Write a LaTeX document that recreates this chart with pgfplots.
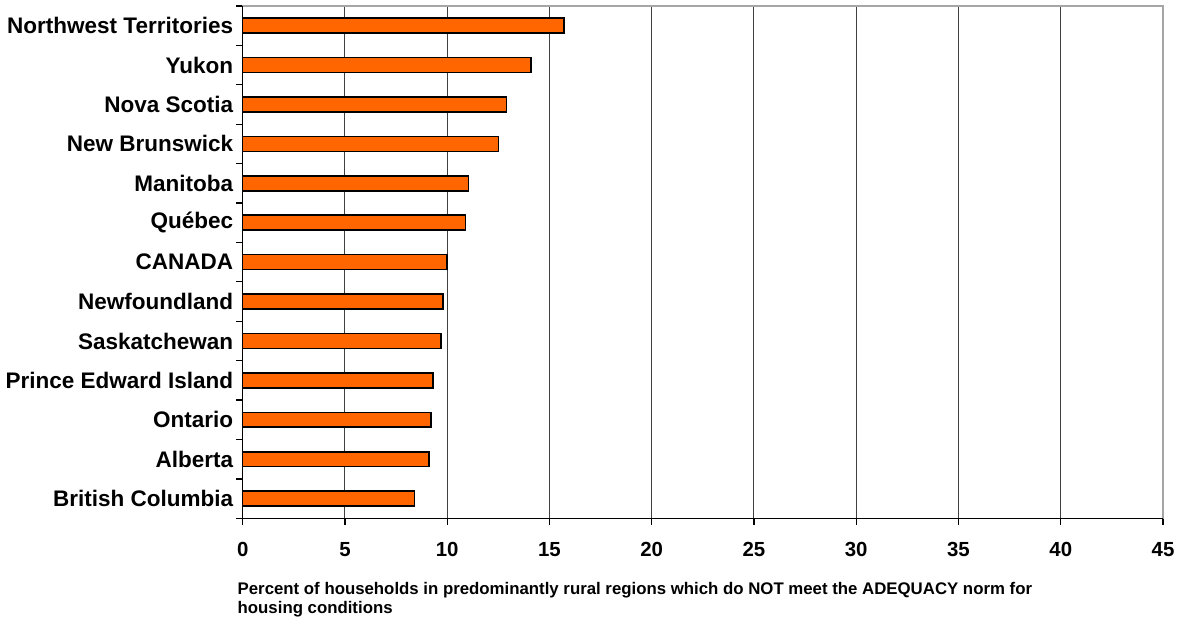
\documentclass[border=0pt]{standalone}
\usepackage{fontspec}
\setmainfont{Liberation Sans}
\usepackage{pgfplots}
\pgfplotsset{compat=1.18}

\definecolor{barorange}{HTML}{FF6600}
\definecolor{gridgray}{HTML}{404040}
\definecolor{framegray}{HTML}{A6A6A6}

\begin{document}
\begin{tikzpicture}
\begin{axis}[
  scale only axis,
  width=460.15pt, height=256.15pt,
  xbar, bar width=0.38, bar shift=0pt,
  xmin=0, xmax=45, ymin=-0.5, ymax=12.5,
  xtick={0,5,...,45},
  ytick={-0.5,0.5,...,12.5},
  yticklabels={},
  extra y ticks={0,1,...,12},
  extra y tick labels={British Columbia, Alberta, Ontario, Prince Edward Island,
    Saskatchewan, Newfoundland, CANADA, Québec, Manitoba, New Brunswick,
    Nova Scotia, Yukon, Northwest Territories},
  extra y tick style={major tick length=0pt},
  tick pos=left, tick align=outside,
  major tick length=3.25pt,
  tick style={black, line width=0.6pt},
  xmajorgrids,
  x grid style={gridgray, line width=0.5pt},
  axis line style={framegray, line width=0.6pt},
  xticklabel style={font=\fontsize{10.2}{12}\selectfont\bfseries,
    inner sep=0pt, anchor=north, yshift=-8.75pt},
  /pgf/number format/assume math mode=true,
  yticklabel style={font=\fontsize{11.25}{13}\selectfont\bfseries,
    inner sep=0pt, anchor=east, xshift=-4.6pt},
]
\addplot[fill=barorange, draw=black, line width=0.8pt] coordinates {
  (8.4,0)    % British Columbia
  (9.1,1)    % Alberta
  (9.2,2)    % Ontario
  (9.3,3)    % Prince Edward Island
  (9.7,4)    % Saskatchewan
  (9.8,5)    % Newfoundland
  (10.0,6)   % CANADA
  (10.9,7)   % Quebec
  (11.05,8)  % Manitoba
  (12.5,9)   % New Brunswick
  (12.9,10)  % Nova Scotia
  (14.1,11)  % Yukon
  (15.7,12)  % Northwest Territories
};
\end{axis}
% solid black value and category axes
\draw[black, line width=0.6pt] (current axis.north west) -- (current axis.south west) -- (current axis.south east);
% axis title, set in two lines
\node[anchor=base west, inner sep=0pt, font=\fontsize{8.4}{10}\selectfont\bfseries]
  at ([xshift=-2.7pt,yshift=-37.85pt]current axis.south west)
  {Percent of households in predominantly rural regions which do NOT meet the ADEQUACY norm for};
\node[anchor=base west, inner sep=0pt, font=\fontsize{8.4}{10}\selectfont\bfseries]
  at ([xshift=-2.7pt,yshift=-47.5pt]current axis.south west)
  {housing conditions};
\pgfresetboundingbox
\path[use as bounding box] ([xshift=-121.35pt,yshift=-49.35pt]current axis.south west)
  rectangle ([xshift=469.15pt,yshift=259.15pt]current axis.south west);
\end{tikzpicture}
\end{document}
